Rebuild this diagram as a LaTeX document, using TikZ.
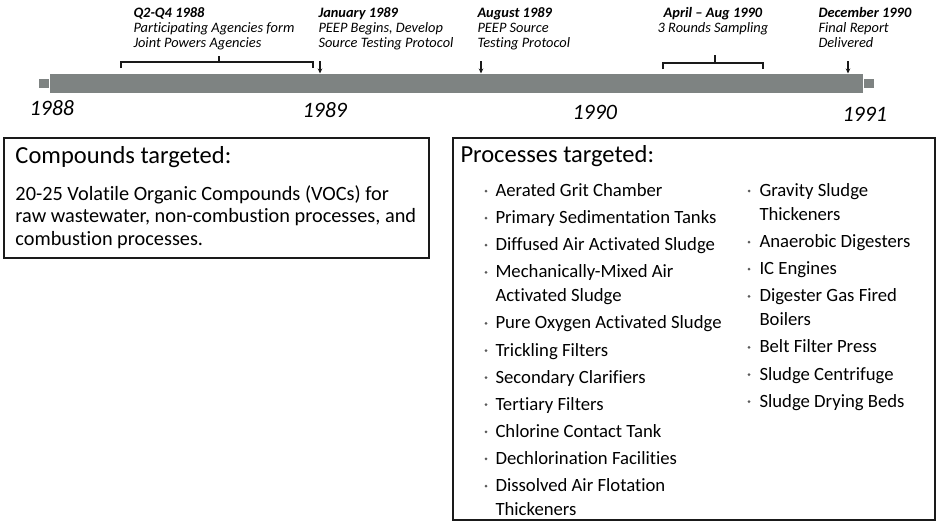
\documentclass[tikz,border=0pt]{standalone}
\usepackage{fontspec}
\setmainfont{Carlito}[Ligatures=NoCommon]
\usetikzlibrary{arrows.meta, positioning}
\definecolor{cbar}{HTML}{7E8382}
\definecolor{cink}{HTML}{1A1A1A}
\definecolor{cdot}{HTML}{5A5A5A}
\tikzset{
  every picture/.style={line width=1pt},
  year/.style={font=\fontsize{22}{24}\selectfont\itshape, anchor=base west, inner sep=0pt},
  event/.style={font=\fontsize{14.4}{15}\selectfont\itshape, align=left, anchor=base west, inner sep=0pt},
  panel/.style={draw=cink, line width=1.3pt},
  head/.style={font=\fontsize{24.5}{26}\selectfont, anchor=base west, inner sep=0pt},
  item/.style={font=\fontsize{18.7}{24}\selectfont, align=left, anchor=base west, inner sep=0pt},
}

\begin{document}
\begin{tikzpicture}[x=1pt, y=-1pt,
    bar/.style={fill=cbar, inner sep=0pt, minimum width=813pt, minimum height=19pt},
    barcap/.style={fill=cbar, inner sep=0pt, minimum width=10pt, minimum height=9.5pt},
    tick/.style={-{Stealth[length=5pt,width=4.5pt]}, draw=cink, line width=1.1pt},
    brace/.style={draw=cink, line width=1.1pt}]
  \useasboundingbox (0,0) rectangle (938,523);
  % timeline bar with its end caps
  \node[bar] (bar) at (456.5,83.5) {};
  \node[barcap, left=0pt of bar] (capl) {};
  \node[barcap, right=0pt of bar] (capr) {};
  \node[year] (y88) at (29,115) {1988};
  \node[year] (y89) at (302,117) {1989};
  \node[year] (y90) at (572,119) {1990};
  \node[year] (y91) at (842,121) {1991};
  % milestones (base sits on the last line)
  \node[event] (q88) at (133,47) {\textbf{Q2-Q4 1988}\\Participating Agencies form\\Joint Powers Agencies};
  \node[event] (jan89) at (318,47) {\textbf{January 1989}\\PEEP Begins, Develop\\Source Testing Protocol};
  \node[event] (aug89) at (477,47) {\textbf{August 1989}\\PEEP Source\\Testing Protocol};
  \node[event, anchor=base, align=center] (apr90) at (713,32) {\textbf{April -- Aug 1990}\\3 Rounds Sampling};
  \node[event] (dec90) at (818,47) {\textbf{December 1990}\\Final Report\\Delivered};
  \draw[brace] (121,68) -- (121,62) -- (313,62) -- (313,68) (219,62) -- (219,56);
  \draw[brace] (663,69) -- (663,63) -- (763,63) -- (763,69) (715,63) -- (715,55);
  \coordinate (t89) at (320,61);
  \coordinate (t89b) at (481,61);
  \coordinate (t90) at (848,61);
  \foreach \t in {t89,t89b,t90} \draw[tick] (\t) -- (\t |- bar.north);
  % compounds panel
  \draw[panel] (4,138) rectangle (429,258);
  \node[head] (chead) at (15,163) {Compounds targeted:};
  \node[item, font=\fontsize{20.3}{22.5}\selectfont] (cbody) at (15,245)
    {20-25 Volatile Organic Compounds (VOCs) for\\raw wastewater, non-combustion processes, and\\combustion processes.};
  % processes panel, \n = extra lines of an item
  \draw[panel] (453,138) rectangle (935,520);
  \node[head] (phead) at (460,162) {Processes targeted:};
  \foreach \y/\n/\t [count=\i] in {196.5/0/Aerated Grit Chamber, 223.6/0/Primary Sedimentation Tanks,
      250.7/0/Diffused Air Activated Sludge, 277.8/1/{Mechanically-Mixed Air\\Activated Sludge},
      328.9/0/Pure Oxygen Activated Sludge, 356.0/0/Trickling Filters, 383.1/0/Secondary Clarifiers,
      410.2/0/Tertiary Filters, 437.3/0/Chlorine Contact Tank, 464.4/0/Dechlorination Facilities,
      491.5/1/{Dissolved Air Flotation\\Thickeners}} {
    \fill[cdot] (486,\y-5.5) circle (1.5);
    \node[item] (pl\i) at (495,\y+24*\n) {\t};
  }
  \foreach \y/\n/\t [count=\i] in {196.5/1/{Gravity Sludge\\Thickeners}, 247.6/0/Anaerobic Digesters,
      274.7/0/IC Engines, 301.8/1/{Digester Gas Fired\\Boilers}, 352.9/0/Belt Filter Press,
      380.0/0/Sludge Centrifuge, 407.1/0/Sludge Drying Beds} {
    \fill[cdot] (749,\y-5.5) circle (1.5);
    \node[item] (pr\i) at (759,\y+24*\n) {\t};
  }
\end{tikzpicture}
\end{document}
